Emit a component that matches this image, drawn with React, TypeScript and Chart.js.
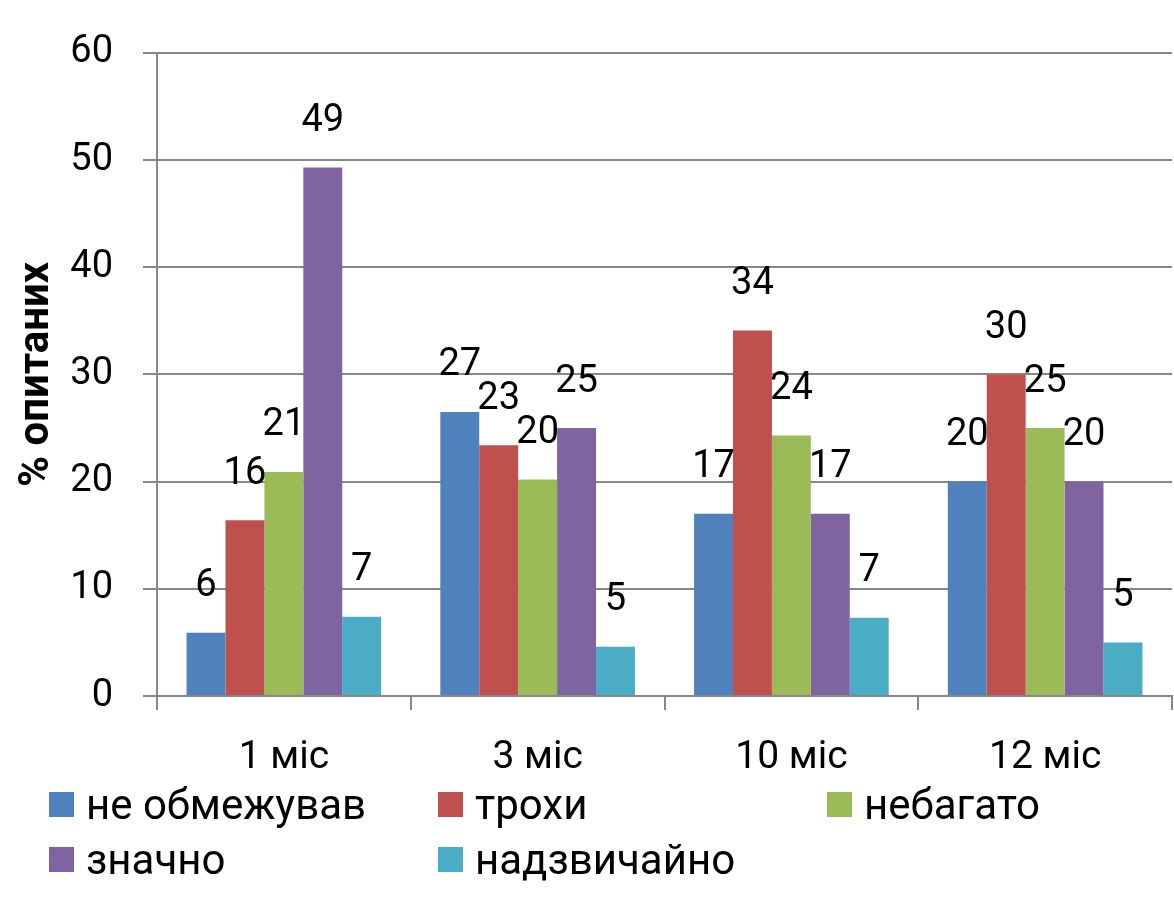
import { useEffect, useRef } from "react"
import { Chart, registerables } from "chart.js"

Chart.register(...registerables)

const months = ["1 міс", "3 міс", "10 міс", "12 міс"]
const seriesNames = ["не обмежував", "трохи", "небагато", "значно", "надзвичайно"]
const seriesColors = ["#4F81BD", "#C0504D", "#9BBB59", "#8064A2", "#4BACC6"]

const notLimited = [5.9, 26.5, 17.0, 20.0]
const aLittle = [16.4, 23.4, 34.1, 30.0]
const notMuch = [20.9, 20.2, 24.3, 25.0]
const significantly = [49.3, 25.0, 17.0, 20.0]
const extremely = [7.4, 4.6, 7.3, 5.0]

const seriesValues = [notLimited, aLittle, notMuch, significantly, extremely]

const yTicks = [0, 10, 20, 30, 40, 50, 60]

const FONT = "Roboto, 'Noto Sans', sans-serif"
const GRID = "#878787"

// numbers above the bars, rounded like in the source
const valueLabels = {
  id: "valueLabels",
  afterDatasetsDraw(chart: Chart) {
    const ctx = chart.ctx
    ctx.save()
    ctx.font = `38px ${FONT}`
    ctx.fillStyle = "#000"
    ctx.textAlign = "center"
    ctx.textBaseline = "middle"
    chart.data.datasets.forEach((ds, i) => {
      const meta = chart.getDatasetMeta(i)
      meta.data.forEach((bar, j) => {
        const v = ds.data[j] as number
        ctx.fillText(String(Math.round(v)), bar.x, bar.y - 46)
      })
    })
    ctx.restore()
  },
}

export default function App() {
  const chartRef = useRef<HTMLCanvasElement>(null)
  const chartInstance = useRef<Chart | null>(null)

  useEffect(() => {
    if (!chartRef.current) return
    if (chartInstance.current) chartInstance.current.destroy()
    const ctx = chartRef.current.getContext("2d")
    if (!ctx) return

    chartInstance.current = new Chart(ctx, {
      type: "bar",
      data: {
        labels: months,
        datasets: seriesNames.map((name, i) => ({
          label: name,
          data: seriesValues[i],
          backgroundColor: seriesColors[i],
          borderWidth: 0,
          categoryPercentage: 0.767,
          barPercentage: 1,
        })),
      },
      plugins: [valueLabels],
      options: {
        responsive: true,
        maintainAspectRatio: false,
        animation: false,
        layout: { padding: { top: 51, right: 2, left: 0, bottom: 0 } },
        plugins: {
          legend: { display: false },
          tooltip: { enabled: false },
        },
        scales: {
          x: {
            offset: true,
            grid: {
              display: true,
              drawOnChartArea: false,
              drawTicks: true,
              tickLength: 14,
              color: GRID,
              lineWidth: 2,
            },
            border: { display: true, color: GRID, width: 2 },
            ticks: {
              color: "#000",
              font: { family: FONT, size: 39 },
              padding: 25,
            },
            afterFit: (scale) => {
              scale.height = 94
            },
          },
          y: {
            min: 0,
            max: 60,
            afterBuildTicks: (scale) => {
              scale.ticks = yTicks.map((v) => ({ value: v }))
            },
            grid: {
              color: GRID,
              lineWidth: 2,
              tickLength: 14,
            },
            border: { display: true, color: GRID, width: 2 },
            ticks: {
              color: "#000",
              font: { family: FONT, size: 38 },
              padding: 30,
            },
            title: {
              display: true,
              text: "% опитаних",
              color: "#000",
              font: { family: FONT, size: 42, weight: "bold", lineHeight: 1.2 },
              padding: { top: 12, bottom: 0 },
            },
            afterFit: (scale) => {
              scale.width = 157
            },
          },
        },
      },
    })

    return () => {
      if (chartInstance.current) {
        chartInstance.current.destroy()
        chartInstance.current = null
      }
    }
  }, [])

  return (
    <div style={{ position: "absolute", left: 0, top: 0, width: 1174, height: 915, background: "#fff" }}>
      <div style={{ position: "absolute", left: 0, top: 0, width: 1174, height: 790 }}>
        <canvas ref={chartRef} />
      </div>
      <div
        style={{
          position: "absolute",
          left: 49,
          top: 777,
          display: "grid",
          gridTemplateColumns: "389px 389px 389px",
          gridAutoRows: "55px",
          fontFamily: FONT,
          fontSize: 42,
          color: "#000",
        }}
      >
        {seriesNames.map((name, i) => (
          <div key={name} style={{ display: "flex", alignItems: "center", whiteSpace: "nowrap" }}>
            <span style={{ width: 25, height: 25, marginRight: 12, backgroundColor: seriesColors[i], flex: "none" }} />
            <span>{name}</span>
          </div>
        ))}
      </div>
    </div>
  )
}
